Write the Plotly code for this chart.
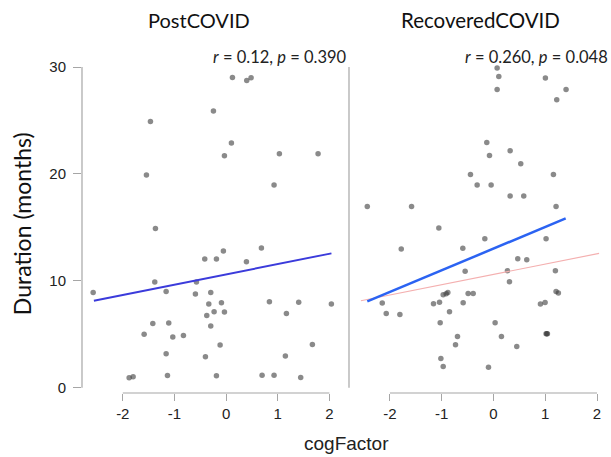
import plotly.graph_objects as go

# PostCOVID group
post_x = [-2.574, -1.877, -1.80, -1.465, -1.542, -1.368, -1.381, -1.419, -1.587, -1.161,
          -1.11, -1.032, -1.161, -1.135, -0.826, -0.594, -0.574, -0.413, -0.187, -0.052,
          -0.297, -0.335, -0.09, -0.374, -0.232, -0.032, -0.297, -0.116, -0.40, -0.187,
          -0.245, 0.123, 0.40, 0.484, 0.103, -0.032, 0.394, 0.684, 1.032, 1.781,
          0.929, 0.839, 1.406, 2.039, 1.168, 1.148, 1.671, 0.697, 0.929, 1.445]
post_y = [8.92, 0.94, 1.03, 24.9, 19.9, 14.9, 9.9, 6.0, 5.0, 9.0,
          6.05, 4.74, 3.18, 1.15, 4.9, 8.76, 9.9, 12.04, 12.04, 12.8,
          8.92, 7.83, 7.95, 6.77, 7.11, 7.08, 5.77, 3.99, 2.9, 1.12,
          25.9, 29.03, 28.75, 29.0, 22.9, 21.7, 11.79, 13.07, 21.9, 21.9,
          18.96, 8.04, 8.01, 7.83, 6.95, 2.96, 4.05, 1.18, 1.18, 0.97]

# RecoveredCOVID group
rec_x = [-2.437, -1.582, -1.781, -2.148, -2.071, -1.807, -1.055, -1.158, -1.042, -0.971,
         -0.913, -0.881, -0.849, -1.029, -0.695, -0.733, -1.016, -0.971, -0.592, -0.547,
         -0.585, -0.489, -0.392, -0.444, -0.315, -0.045, -0.129, -0.077, -0.167, -0.096,
         0.032, 0.154, 0.071, 0.103, 0.071, 0.322, 0.527, 0.322, 0.585, 0.469,
         0.643, 0.27, 0.309, 0.45, 1.003, 1.402, 1.222, 1.158, 1.209, 1.016,
         1.196, 1.209, 1.254, 0.907, 0.997, 1.016, 1.03, 1.042]
rec_y = [16.96, 16.96, 12.97, 7.92, 6.95, 6.86, 14.94, 7.86, 8.01, 8.70,
         8.79, 8.92, 7.11, 6.08, 4.80, 4.02, 2.74, 2.0, 13.06, 10.91,
         7.95, 8.82, 8.82, 19.96, 18.96, 18.96, 22.95, 21.73, 13.94, 1.93,
         6.08, 4.80, 29.9, 29.12, 27.9, 22.17, 20.95, 17.93, 17.93, 12.07,
         11.97, 10.94, 9.92, 3.87, 28.97, 27.9, 26.94, 19.96, 16.96, 13.94,
         10.94, 9.01, 8.86, 7.83, 7.98, 5.05, 5.05, 5.05]

# Regression fit lines (endpoints)
post_fit_x = [-2.56, 2.04]
post_fit_y = [8.14, 12.57]
rec_fit_x = [-2.437, 1.395]
rec_fit_y = [8.08, 15.84]

x_ticks = [-2, -1, 0, 1, 2]
y_ticks = [0, 10, 20, 30]
panel_titles = ["PostCOVID", "RecoveredCOVID"]
stats_text = ["<i>r</i> = 0.12, <i>p</i> = 0.390", "<i>r</i> = 0.260, <i>p</i> = 0.048"]

PT_COLOR = "rgba(60,60,60,0.6)"
AX_COLOR = "#a6a6a6"
CAL = "Lato, 'Noto Sans', sans-serif"
ARIAL = "'Liberation Sans', Arial, sans-serif"

fig = go.Figure()
fig.add_trace(go.Scatter(x=post_x, y=post_y, mode="markers", xaxis="x", yaxis="y",
                         marker=dict(size=5.5, color=PT_COLOR), cliponaxis=False))
fig.add_trace(go.Scatter(x=post_fit_x, y=post_fit_y, mode="lines", xaxis="x", yaxis="y",
                         line=dict(color="#3b3bdb", width=2)))
fig.add_trace(go.Scatter(x=rec_x, y=rec_y, mode="markers", xaxis="x2", yaxis="y2",
                         marker=dict(size=5.5, color=PT_COLOR), cliponaxis=False))
fig.add_trace(go.Scatter(x=post_fit_x, y=post_fit_y, mode="lines", xaxis="x2", yaxis="y2",
                         line=dict(color="#f4b0b0", width=1.2)))
fig.add_trace(go.Scatter(x=rec_fit_x, y=rec_fit_y, mode="lines", xaxis="x2", yaxis="y2",
                         line=dict(color="#2b63f2", width=2.5)))

split = (349 - 82) / 529
xcommon = dict(showgrid=False, zeroline=False, showline=False, ticks="outside", ticklen=7,
               tickcolor=AX_COLOR, tickvals=x_ticks, ticktext=[str(v) for v in x_ticks],
               tickfont=dict(family=ARIAL, size=15, color="#222"))
fig.update_layout(
    width=611, height=457, template="plotly_white", showlegend=False,
    plot_bgcolor="white", paper_bgcolor="white",
    margin=dict(l=82, r=0, t=60, b=64),
    xaxis=dict(domain=[0, split], range=[-2.79, 2.38], anchor="y", **xcommon),
    xaxis2=dict(domain=[split, 1], range=[-2.79, 2.27], anchor="y2", **xcommon),
    yaxis=dict(domain=[0, 1], range=[-0.49, 30.66], anchor="x", showgrid=False, zeroline=False,
               showline=False, ticks="outside", ticklen=8, tickcolor=AX_COLOR,
               tickvals=y_ticks, ticktext=[str(v) for v in y_ticks], ticklabelstandoff=4,
               tickfont=dict(family=ARIAL, size=15, color="#222")),
    yaxis2=dict(domain=[0, 1], range=[-0.49, 30.66], anchor="x2", showgrid=False, zeroline=False,
                showline=False, showticklabels=False, ticks=""),
)

shapes = []
for xr, yr in [("x", "y"), ("x2", "y2")]:
    shapes.append(dict(type="line", xref=f"{xr} domain", x0=0, x1=0, yref=yr,
                       y0=y_ticks[0], y1=y_ticks[-1], line=dict(color=AX_COLOR, width=1.2)))
    shapes.append(dict(type="line", xref=xr, x0=x_ticks[0], x1=x_ticks[-1], yref=f"{yr} domain",
                       y0=0, y1=0, line=dict(color=AX_COLOR, width=1.2)))
fig.update_layout(shapes=shapes)

ann = []
ann.append(dict(text=panel_titles[0], xref="paper", yref="paper", x=(199 - 82) / 529, y=1.12,
                xanchor="center", yanchor="middle",
                showarrow=False, font=dict(family=CAL, size=20, color="#111")))
ann.append(dict(text=panel_titles[1], xref="paper", yref="paper", x=(480.5 - 82) / 529, y=1.12,
                xanchor="center", yanchor="middle",
                showarrow=False, font=dict(family=CAL, size=20.5, color="#111")))
ann.append(dict(text=stats_text[0], xref="x domain", yref="paper", x=1, y=1.009,
                xanchor="right", yanchor="middle", showarrow=False,
                font=dict(family=CAL, size=16.5, color="#222")))
ann.append(dict(text=stats_text[1], xref="x2 domain", yref="paper", x=1.0, y=1.009, xshift=-1,
                xanchor="right", yanchor="middle", showarrow=False,
                font=dict(family=CAL, size=16.5, color="#222")))
ann.append(dict(text="cogFactor", xref="paper", yref="paper", x=(346 - 82) / 529, y=-0.151,
                xanchor="center", showarrow=False, yanchor="middle",
                font=dict(family=ARIAL, size=19, color="#222")))
ann.append(dict(text="Duration (months)", xref="paper", yref="paper", x=(22 - 82) / 529,
                y=(392.7 - 224) / 332.7, textangle=-90, showarrow=False, xanchor="center",
                yanchor="middle", font=dict(family=CAL, size=23, color="#111")))
fig.update_layout(annotations=ann)

fig.write_html("out.html", config={"displayModeBar": False},
               post_script="document.body.style.margin='0';")
